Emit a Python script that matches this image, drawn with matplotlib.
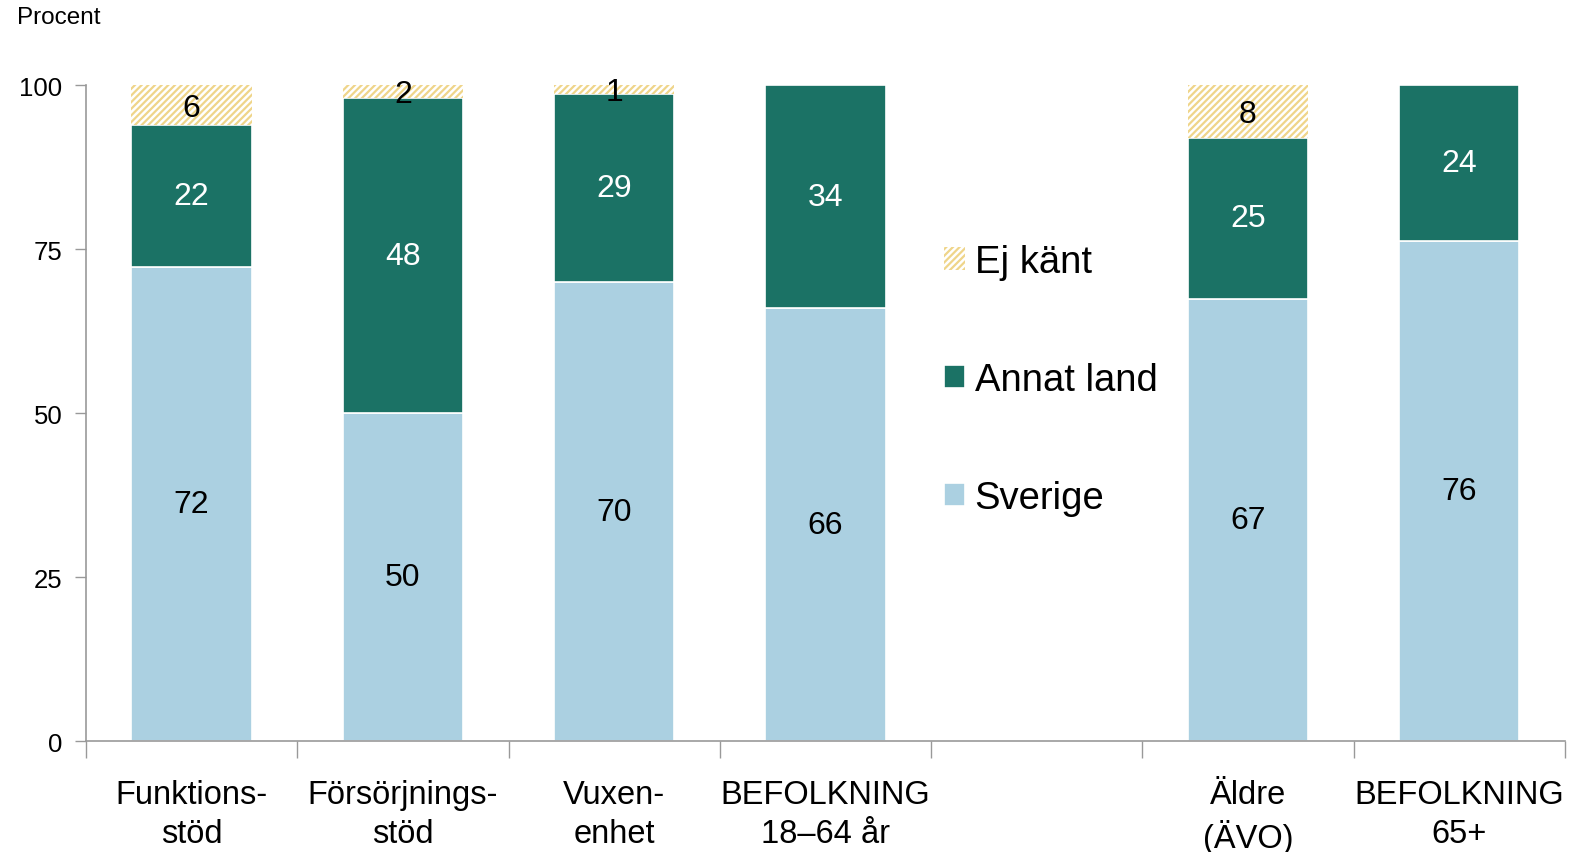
import matplotlib
matplotlib.use("Agg")
import matplotlib.pyplot as plt
import numpy as np

categories = ["Funktions-\nstöd", "Försörjnings-\nstöd", "Vuxen-\nenhet", "BEFOLKNING\n18–64 år", "", "Äldre\n(ÄVO)", "BEFOLKNING\n65+"]
sverige = [72.3, 50.0, 70.0, 66.0, 0, 67.4, 76.2]
annat_land = [21.6, 48.0, 28.6, 34.0, 0, 24.6, 23.8]
ej_kant = [6.1, 2.0, 1.4, 0, 0, 8.0, 0]
present = [True, True, True, True, False, True, True]

c_sve = "#abd0e1"
c_ann = "#1b7265"
c_ej = "#efd58a"

plt.rcParams['hatch.linewidth'] = 1.6
fig = plt.figure(figsize=(15.79, 8.53), dpi=100)
ax = fig.add_axes([0.0545, 0.130, 0.9365, 0.769])

x = np.arange(len(categories))
w = 0.57
sve = np.array(sverige); ann = np.array(annat_land); ej = np.array(ej_kant)

b1 = ax.bar(x, sve, w, color=c_sve, edgecolor="white", linewidth=1.2, label="Sverige")
b2 = ax.bar(x, ann, w, bottom=sve, color=c_ann, edgecolor="white", linewidth=1.2, label="Annat land")
b3 = ax.bar(x, ej, w, bottom=sve + ann, color="white", edgecolor=c_ej, linewidth=0, hatch="/////", label="Ej känt")

lab_font = "Liberation Sans"
fs = 23
for i in range(len(x)):
    if not present[i]:
        continue
    if sve[i] > 0:
        ax.text(x[i], sve[i] / 2, f"{round(sve[i])}", ha="center", va="center", fontsize=fs, color="black", family=lab_font)
    if ann[i] > 0:
        ax.text(x[i], sve[i] + ann[i] / 2, f"{round(ann[i])}", ha="center", va="center", fontsize=fs, color="white", family=lab_font)
    if ej[i] > 0:
        ax.text(x[i], sve[i] + ann[i] + ej[i] / 2 - 0.4, f"{round(ej[i])}", ha="center", va="center", fontsize=fs, color="black", family=lab_font)

ax.set_xlim(-0.5, len(categories) - 0.5)
ax.set_ylim(0, 100)
ax.set_yticks([0, 25, 50, 75, 100])
ax.tick_params(axis="y", length=8, width=1, color="#999999", labelsize=18.5, pad=9)
for t in ax.get_yticklabels():
    t.set_family(lab_font)

ax.set_xticks(x)
ax.set_xticklabels(categories, fontsize=23.5, family=lab_font, linespacing=1.35)
ax.tick_params(axis="x", which="major", length=0, pad=27)
ax.set_xticks(np.arange(-0.5, len(categories)), minor=True)
ax.tick_params(axis="x", which="minor", length=12, width=1, color="#999999", direction="out")

for s in ["top", "right"]:
    ax.spines[s].set_visible(False)
for s in ["left", "bottom"]:
    ax.spines[s].set_color("#999999")
    ax.spines[s].set_linewidth(1.2)

fig.text(0.011, 0.979, "Procent", fontsize=17.5, family=lab_font, va="center", ha="left")

handles = [b3, b2, b1]
leg = ax.legend(handles, ["Ej känt", "Annat land", "Sverige"], loc="center left",
                bbox_to_anchor=(0.557, 0.55), frameon=False,
                handlelength=0.55, handleheight=0.55, handletextpad=0.25, labelspacing=2.15,
                prop={"family": lab_font, "size": 27.5})

fig.savefig("out.png", dpi=100)
